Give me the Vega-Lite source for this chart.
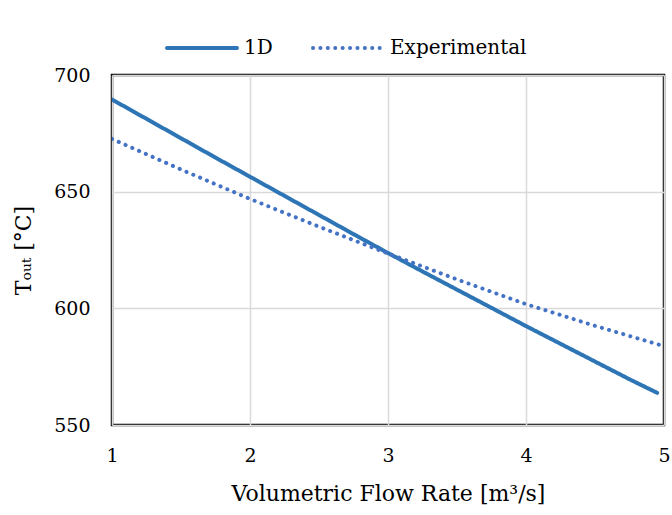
{
  "$schema": "https://vega.github.io/schema/vega-lite/v6.json",
  "width": 552,
  "height": 350,
  "autosize": {"type": "none"},
  "padding": {"left": 112, "top": 75, "right": 8, "bottom": 90},
  "background": "white",
  "config": {
    "font": "DejaVu Serif",
    "view": {"stroke": "#000000", "strokeWidth": 2.5},
    "axis": {
      "labelFont": "DejaVu Serif",
      "titleFont": "DejaVu Serif",
      "labelFontSize": 19,
      "titleFontSize": 22,
      "titleFontWeight": "normal",
      "labelColor": "#000000",
      "titleColor": "#000000",
      "domain": false,
      "ticks": false,
      "labelFlush": false,
      "gridColor": "#d9d9d9",
      "gridWidth": 1.5
    }
  },
  "data": {
    "values": [
      {"x": 1.0, "T": 689.5, "series": "1D"},
      {"x": 1.25, "T": 681.2, "series": "1D"},
      {"x": 1.5, "T": 672.9, "series": "1D"},
      {"x": 1.75, "T": 664.6, "series": "1D"},
      {"x": 2.0, "T": 656.4, "series": "1D"},
      {"x": 2.25, "T": 648.2, "series": "1D"},
      {"x": 2.5, "T": 640.0, "series": "1D"},
      {"x": 2.75, "T": 631.8, "series": "1D"},
      {"x": 3.0, "T": 623.7, "series": "1D"},
      {"x": 3.25, "T": 615.8, "series": "1D"},
      {"x": 3.5, "T": 608.0, "series": "1D"},
      {"x": 3.75, "T": 600.2, "series": "1D"},
      {"x": 4.0, "T": 592.4, "series": "1D"},
      {"x": 4.25, "T": 584.8, "series": "1D"},
      {"x": 4.5, "T": 577.2, "series": "1D"},
      {"x": 4.75, "T": 569.6, "series": "1D"},
      {"x": 4.95, "T": 563.8, "series": "1D"},
      {"x": 1.0, "T": 672.6, "series": "Experimental"},
      {"x": 1.5, "T": 659.5, "series": "Experimental"},
      {"x": 2.0, "T": 646.9, "series": "Experimental"},
      {"x": 2.5, "T": 635.0, "series": "Experimental"},
      {"x": 3.0, "T": 623.5, "series": "Experimental"},
      {"x": 3.5, "T": 612.4, "series": "Experimental"},
      {"x": 4.0, "T": 601.8, "series": "Experimental"},
      {"x": 4.5, "T": 592.5, "series": "Experimental"},
      {"x": 5.0, "T": 583.8, "series": "Experimental"}
    ]
  },
  "mark": {"type": "line", "strokeWidth": 4, "clip": true, "strokeCap": "round"},
  "encoding": {
    "x": {
      "field": "x",
      "type": "quantitative",
      "scale": {"domain": [1, 5], "nice": false},
      "axis": {"values": [1, 2, 3, 4, 5], "title": "Volumetric Flow Rate [m³/s]", "labelPadding": 21, "titlePadding": 18}
    },
    "y": {
      "field": "T",
      "type": "quantitative",
      "scale": {"domain": [550, 700], "nice": false, "zero": false},
      "axis": {"values": [550, 600, 650, 700], "title": "Tₒᵤₜ [°C]", "labelPadding": 22, "titlePadding": 18}
    },
    "color": {
      "field": "series",
      "type": "nominal",
      "scale": {"domain": ["1D", "Experimental"], "range": ["#2E75B6", "#4472C4"]},
      "legend": {
        "title": null,
        "orient": "none",
        "direction": "horizontal",
        "legendX": 53,
        "legendY": -64,
        "symbolType": "stroke",
        "symbolSize": 4900,
        "symbolStrokeWidth": 4,
        "labelFont": "DejaVu Serif",
        "labelFontSize": 20,
        "labelColor": "#000000",
        "labelOffset": 5,
        "columnPadding": 32,
        "encode": {"symbols": {"update": {"strokeCap": {"value": "round"}}}}
      }
    },
    "strokeDash": {
      "field": "series",
      "type": "nominal",
      "scale": {"domain": ["1D", "Experimental"], "range": [[1, 0], [0.1, 7.3]]},
      "legend": null
    }
  }
}
